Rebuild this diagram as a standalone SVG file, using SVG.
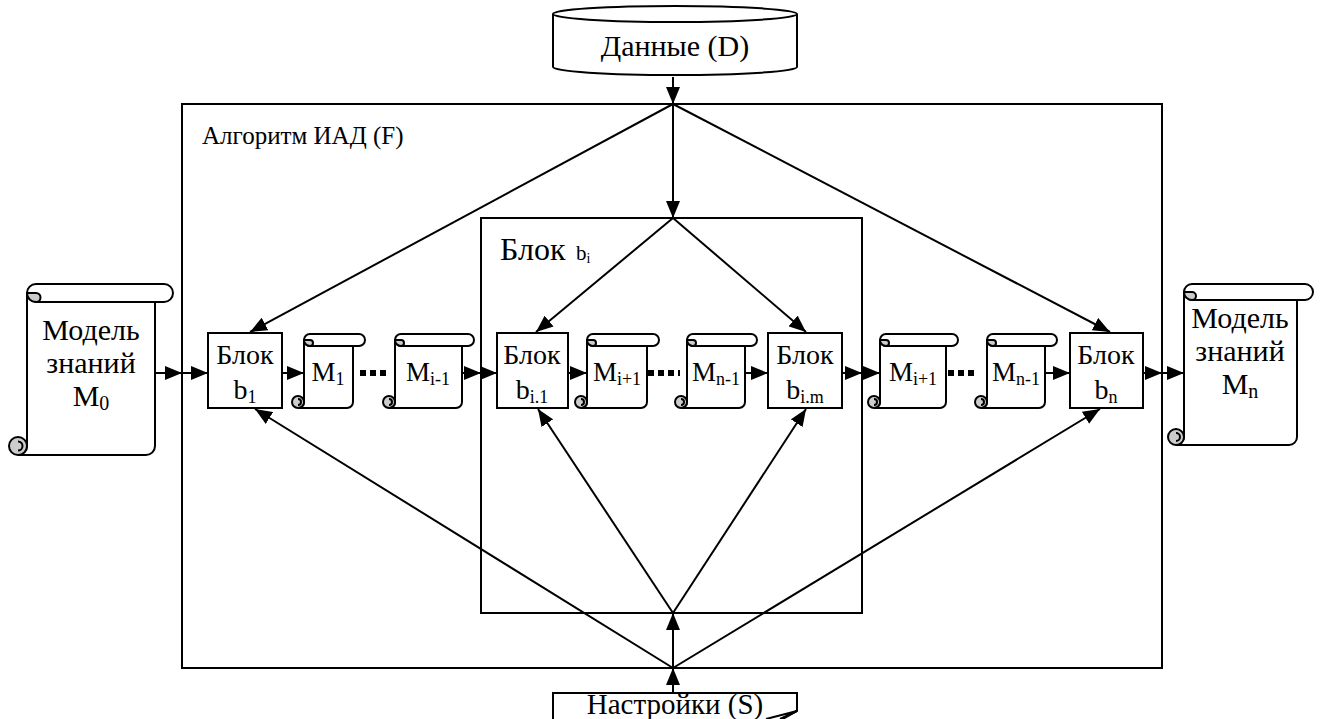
<svg xmlns="http://www.w3.org/2000/svg" width="1321" height="719" viewBox="0 0 1321 719" font-family="'Liberation Serif', 'DejaVu Serif', serif">
<style>
text{font-family:'Liberation Serif','DejaVu Serif',serif;fill:#000}
.t{font-size:28px}
.tm{font-size:27px}
.sub{font-size:18px}
.ln{stroke:#000;stroke-width:2;fill:none}
.ar{stroke:#000;stroke-width:2;fill:none;marker-end:url(#ah)}
.box{fill:#fff;stroke:#000;stroke-width:2}
.frame{fill:none;stroke:#000;stroke-width:2}
.curl{fill:#ccc;stroke:#000;stroke-width:2}
.dots{stroke:#000;stroke-width:6;stroke-dasharray:6 4;fill:none}
</style>
<defs>
<marker id="ah" viewBox="0 0 17 14" refX="17" refY="7" markerWidth="17" markerHeight="14" markerUnits="userSpaceOnUse" orient="auto"><path d="M0,0 L17,7 L0,14 z" fill="#000"/></marker>
</defs>
<rect width="1321" height="719" fill="#fff"/>

<g id="algorithm-frame">
<rect class="frame" x="182" y="104" width="980" height="564"/>
<text x="202" y="144" style="font-size:25px">Алгоритм ИАД (F)</text>
</g>
<g id="block-bi-frame">
<rect class="frame" x="481" y="218" width="381" height="395"/>
<text x="500" y="260" style="font-size:32px">Блок</text>
<text x="576" y="260" style="font-size:21px">b<tspan style="font-size:14px" dy="3">i</tspan></text>
</g>

<g id="connectors">
<line class="ar" x1="673" y1="77" x2="673" y2="104"/>
<line class="ar" x1="673" y1="104" x2="250" y2="332"/>
<line class="ar" x1="673" y1="104" x2="673" y2="218"/>
<line class="ar" x1="673" y1="104" x2="1110" y2="332"/>
<line class="ar" x1="673" y1="218" x2="536" y2="332"/>
<line class="ar" x1="673" y1="218" x2="806" y2="332"/>
<line class="ar" x1="673" y1="693" x2="673" y2="668"/>
<line class="ar" x1="673" y1="668" x2="255" y2="409"/>
<line class="ar" x1="673" y1="668" x2="673" y2="613"/>
<line class="ar" x1="673" y1="668" x2="1100" y2="409"/>
<line class="ar" x1="673" y1="613" x2="538" y2="409"/>
<line class="ar" x1="673" y1="613" x2="806" y2="409"/>
<line class="ar" x1="155" y1="373" x2="182" y2="373"/>
<line class="ar" x1="182" y1="373" x2="208" y2="373"/>
<line class="ar" x1="282" y1="373" x2="304" y2="373"/>
<line class="ar" x1="462" y1="373" x2="481" y2="373"/>
<line class="ar" x1="481" y1="373" x2="497" y2="373"/>
<line class="ar" x1="568" y1="373" x2="587" y2="373"/>
<line class="ar" x1="745" y1="373" x2="768" y2="373"/>
<line class="ar" x1="842" y1="373" x2="862" y2="373"/>
<line class="ar" x1="862" y1="373" x2="880" y2="373"/>
<line class="ar" x1="1045" y1="373" x2="1070" y2="373"/>
<line class="ar" x1="1143" y1="373" x2="1162" y2="373"/>
<line class="ar" x1="1162" y1="373" x2="1184" y2="373"/>
<line class="dots" x1="360" y1="373" x2="390" y2="373"/>
<line class="dots" x1="648" y1="373" x2="680" y2="373"/>
<line class="dots" x1="948" y1="373" x2="978" y2="373"/>
</g>

<g id="data-D">
<path class="box" d="M553,14 V67 A122,8 0 0 0 797,67 V14"/>
<ellipse class="box" cx="675" cy="14" rx="122" ry="8"/>
<text x="675" y="56" text-anchor="middle" style="font-size:30px">Данные (D)</text>
</g>

<g id="settings-S">
<path class="box" d="M553,719 V693 H797 V711 L772,725"/>
<path class="box" d="M766,719 L797,711 L780,719"/>
<text x="675" y="714" text-anchor="middle" style="font-size:29px">Настройки (S)</text>
</g>

<g id="model-M0">
<path class="box" d="M27,293 V446 A9,9 0 0 1 18,455 H146 A9,9 0 0 0 155,446 V293"/>
<circle class="curl" cx="18" cy="446" r="9"/>
<path class="ln" d="M18,441.5 A4.5,4.5 0 0 1 18,450.5"/>
<rect class="box" x="27" y="284" width="146" height="18" rx="9"/>
<path class="curl" d="M36,293 A4.5,4.5 0 0 1 36,302 A9,9 0 0 1 27,293 Z"/>
<text x="91" y="340" text-anchor="middle" style="font-size:30px">Модель</text>
<text x="91" y="373" text-anchor="middle" style="font-size:30px">знаний</text>
<text x="91" y="406" text-anchor="middle" style="font-size:30px">M<tspan dy="4" style="font-size:20px">0</tspan></text>
</g>

<g id="block-b1">
<rect class="box" x="208" y="333" width="74" height="75"/>
<text class="t" x="245" y="364" text-anchor="middle">Блок</text>
<text class="t" x="245" y="399" text-anchor="middle">b<tspan class="sub" dy="4">1</tspan></text>
</g>

<g id="model-M1">
<path class="box" d="M304,340 V402 A6,6 0 0 1 298,408 H347 A6,6 0 0 0 353,402 V340"/>
<circle class="curl" cx="298" cy="402" r="6"/>
<path class="ln" d="M298,399 A3,3 0 0 1 298,405"/>
<rect class="box" x="304" y="334" width="61" height="12" rx="6"/>
<path class="curl" d="M310,340 A3,3 0 0 1 310,346 A6,6 0 0 1 304,340 Z"/>
<text class="tm" x="328" y="381" text-anchor="middle">M<tspan class="sub" dy="4">1</tspan></text>
</g>

<g id="model-Mi-1">
<path class="box" d="M395,340 V402 A6,6 0 0 1 389,408 H456 A6,6 0 0 0 462,402 V340"/>
<circle class="curl" cx="389" cy="402" r="6"/>
<path class="ln" d="M389,399 A3,3 0 0 1 389,405"/>
<rect class="box" x="395" y="334" width="79" height="12" rx="6"/>
<path class="curl" d="M401,340 A3,3 0 0 1 401,346 A6,6 0 0 1 395,340 Z"/>
<text class="tm" x="428" y="381" text-anchor="middle">M<tspan class="sub" dy="4">i-1</tspan></text>
</g>

<g id="block-bi1">
<rect class="box" x="497" y="333" width="71" height="75"/>
<text class="t" x="532" y="364" text-anchor="middle">Блок</text>
<text class="t" x="532" y="399" text-anchor="middle">b<tspan class="sub" dy="4">i.1</tspan></text>
</g>

<g id="model-Mi+1-inner">
<path class="box" d="M587,340 V402 A6,6 0 0 1 581,408 H641 A6,6 0 0 0 647,402 V340"/>
<circle class="curl" cx="581" cy="402" r="6"/>
<path class="ln" d="M581,399 A3,3 0 0 1 581,405"/>
<rect class="box" x="587" y="334" width="72" height="12" rx="6"/>
<path class="curl" d="M593,340 A3,3 0 0 1 593,346 A6,6 0 0 1 587,340 Z"/>
<text class="tm" x="617" y="381" text-anchor="middle">M<tspan class="sub" dy="4">i+1</tspan></text>
</g>

<g id="model-Mn-1-inner">
<path class="box" d="M687,340 V402 A6,6 0 0 1 681,408 H739 A6,6 0 0 0 745,402 V340"/>
<circle class="curl" cx="681" cy="402" r="6"/>
<path class="ln" d="M681,399 A3,3 0 0 1 681,405"/>
<rect class="box" x="687" y="334" width="70" height="12" rx="6"/>
<path class="curl" d="M693,340 A3,3 0 0 1 693,346 A6,6 0 0 1 687,340 Z"/>
<text class="tm" x="716" y="381" text-anchor="middle">M<tspan class="sub" dy="4">n-1</tspan></text>
</g>

<g id="block-bim">
<rect class="box" x="768" y="333" width="74" height="75"/>
<text class="t" x="805" y="364" text-anchor="middle">Блок</text>
<text class="t" x="805" y="399" text-anchor="middle">b<tspan class="sub" dy="4">i.m</tspan></text>
</g>

<g id="model-Mi+1-outer">
<path class="box" d="M880,340 V402 A6,6 0 0 1 874,408 H940 A6,6 0 0 0 946,402 V340"/>
<circle class="curl" cx="874" cy="402" r="6"/>
<path class="ln" d="M874,399 A3,3 0 0 1 874,405"/>
<rect class="box" x="880" y="334" width="78" height="12" rx="6"/>
<path class="curl" d="M886,340 A3,3 0 0 1 886,346 A6,6 0 0 1 880,340 Z"/>
<text class="tm" x="913" y="381" text-anchor="middle">M<tspan class="sub" dy="4">i+1</tspan></text>
</g>

<g id="model-Mn-1-outer">
<path class="box" d="M987,340 V402 A6,6 0 0 1 981,408 H1039 A6,6 0 0 0 1045,402 V340"/>
<circle class="curl" cx="981" cy="402" r="6"/>
<path class="ln" d="M981,399 A3,3 0 0 1 981,405"/>
<rect class="box" x="987" y="334" width="70" height="12" rx="6"/>
<path class="curl" d="M993,340 A3,3 0 0 1 993,346 A6,6 0 0 1 987,340 Z"/>
<text class="tm" x="1016" y="381" text-anchor="middle">M<tspan class="sub" dy="4">n-1</tspan></text>
</g>

<g id="block-bn">
<rect class="box" x="1070" y="333" width="73" height="75"/>
<text class="t" x="1106" y="364" text-anchor="middle">Блок</text>
<text class="t" x="1106" y="399" text-anchor="middle">b<tspan class="sub" dy="4">n</tspan></text>
</g>

<g id="model-Mn">
<path class="box" d="M1184,292 V437 A8,8 0 0 1 1176,445 H1289 A8,8 0 0 0 1297,437 V292"/>
<circle class="curl" cx="1176" cy="437" r="8"/>
<path class="ln" d="M1176,433 A4,4 0 0 1 1176,441"/>
<rect class="box" x="1184" y="284" width="129" height="16" rx="8"/>
<path class="curl" d="M1192,292 A4,4 0 0 1 1192,300 A8,8 0 0 1 1184,292 Z"/>
<text x="1240" y="328" text-anchor="middle" style="font-size:30px">Модель</text>
<text x="1240" y="361" text-anchor="middle" style="font-size:30px">знаний</text>
<text x="1240" y="394" text-anchor="middle" style="font-size:30px">M<tspan dy="4" style="font-size:20px">n</tspan></text>
</g>
</svg>
